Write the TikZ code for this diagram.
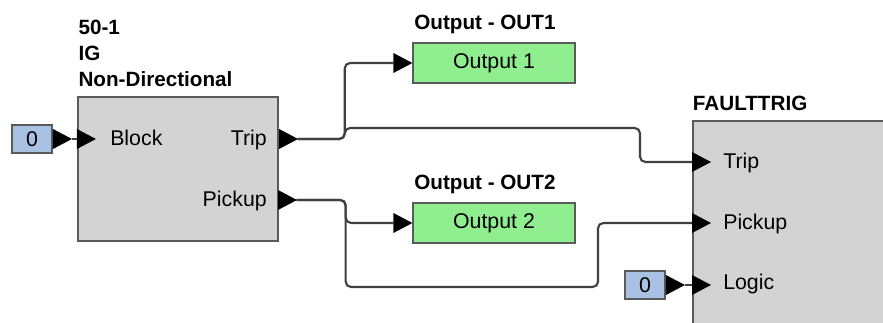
\documentclass[tikz,border=0pt]{standalone}
\usepackage{fontspec}
\setmainfont{Liberation Sans}
\usepackage{tikz}
\usetikzlibrary{arrows.meta, positioning}
\usepackage{xcolor}
\definecolor{blockgray}{HTML}{D3D3D3}
\definecolor{edgegray}{HTML}{5A5A5A}
\definecolor{wiregray}{HTML}{404040}
\definecolor{outgreen}{HTML}{90EE90}
\definecolor{zeroblue}{HTML}{A9C1E3}

\begin{document}
\begin{tikzpicture}[x=0.75pt, y=-0.75pt,
    block/.style={draw=edgegray, line width=1.6pt, fill=blockgray, inner sep=0pt},
    outbox/.style={draw=edgegray, line width=1.4pt, fill=outgreen, minimum width=121.5pt, minimum height=30pt, inner sep=0pt, font=\fontsize{16}{19}\selectfont},
    zerobox/.style={draw=edgegray, line width=1.4pt, fill=zeroblue, minimum width=30pt, minimum height=21pt, inner sep=0pt, font=\fontsize{16}{19}\selectfont},
    title/.style={font=\bfseries\fontsize{15.5}{19.5}\selectfont, inner sep=0pt, align=left},
    portlabel/.style={font=\fontsize{16}{19}\selectfont, inner sep=0pt},
    wire/.style={draw=wiregray, line width=1.6pt, rounded corners=4pt},
    porttri/.pic={\fill[black] (0,-10) -- (19,0) -- (0,10) -- cycle;}
]
                \useasboundingbox (0,0) rectangle (883,323);
                \clip (0,0) rectangle (883,323);

                % Blocco 50-1
                \node[block, minimum width=150pt, minimum height=108pt] (ig) at (178,169) {};
                \node[title, anchor=south west] (igTitle) at ([xshift=1pt, yshift=6.5pt]ig.north west) {50-1\\IG\\Non-Directional};
                \node[portlabel, anchor=base west] (igBlockL) at (110,146) {Block};
                \node[portlabel, anchor=base east] (igTripL) at (267,146) {Trip};
                \node[portlabel, anchor=base east] (igPickL) at (267,207) {Pickup};

                % Uscite
                \node[outbox] (o1) at (494,63) {Output 1};
                \node[title, anchor=south west] (o1t) at ([xshift=1.5pt, yshift=6pt]o1.north west) {Output - OUT1};
                \node[outbox] (o2) at (494,223) {Output 2};
                \node[title, anchor=south west] (o2t) at ([xshift=1.5pt, yshift=6pt]o2.north west) {Output - OUT2};

                % Blocco FAULTTRIG
                \node[block, minimum width=162pt, minimum height=172.5pt, anchor=north west] (ft) at (692,120) {};
                \node[title, anchor=south west] (ftTitle) at ([xshift=0.5pt, yshift=7pt]ft.north west) {FAULTTRIG};
                \node[portlabel, anchor=base west] (ftTripL) at (723,169) {Trip};
                \node[portlabel, anchor=base west] (ftPickL) at (723,230) {Pickup};
                \node[portlabel, anchor=base west] (ftLogicL) at (723,290) {Logic};

                % Costanti
                \node[zerobox] (z1) at (32,139) {0};
                \node[zerobox] (z2) at (645,285) {0};

                % Porte
                \coordinate (igBlock) at (ig.west |- z1);
                \coordinate (igTrip) at (ig.east |- z1);
                \coordinate (igPick) at (278,200);
                \coordinate (igTripO) at ([xshift=14pt]igTrip);
                \coordinate (igPickO) at ([xshift=14pt]igPick);
                \coordinate (z1O) at ([xshift=14pt]z1.east);
                \coordinate (z2O) at ([xshift=14pt]z2.east);
                \coordinate (o1In) at ([xshift=-14pt]o1.west);
                \coordinate (o2In) at ([xshift=-14pt]o2.west);
                \coordinate (ftTrip) at (692,162);
                \coordinate (ftPick) at (ft.west |- o2);
                \coordinate (ftLogic) at (ft.west |- z2);

                % Collegamenti
                \draw[wire] (z1O) -- (igBlock);
                \draw[wire] (igTripO) -- ++(47,0) |- (o1In);
                \draw[wire] (igTripO) -- ++(47,0) -- ++(0,-11) -| ([xshift=-39pt]ftTrip) -- (ftTrip);
                \draw[wire] (igPickO) -- ++(49,0) |- (o2In);
                \draw[wire] (igPickO) -- ++(49,0) -- ++(0,87) -| ([xshift=-70.5pt]ftPick) -- (ftPick);
                \draw[wire] (z2O) -- (ftLogic);

                % Triangoli delle porte
                \pic at (igTrip) {porttri};
                \pic at (igPick) {porttri};
                \pic at (z1.east) {porttri};
                \pic at (z2.east) {porttri};
                \pic at (o1In) {porttri};
                \pic at (o2In) {porttri};
                \pic at (igBlock) {porttri};
                \pic at (ftTrip) {porttri};
                \pic at (ftPick) {porttri};
                \pic at (ftLogic) {porttri};
            \end{tikzpicture}
\end{document}
